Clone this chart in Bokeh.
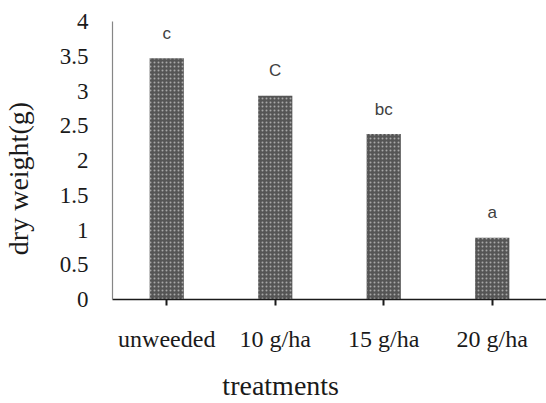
from bokeh.plotting import figure
from bokeh.models import (Range1d, FixedTicker, ColumnDataSource,
                          CustomJSTickFormatter, LinearAxis)
from bokeh.core.properties import value
from bokeh.embed import file_html
from bokeh.resources import INLINE

categories = ["unweeded", "10 g/ha", "15 g/ha", "20 g/ha"]
dry_weight = [3.47, 2.93, 2.38, 0.89]
letters = ["c", "C", "bc", "a"]
y_ticks = [0, 0.5, 1, 1.5, 2, 2.5, 3, 3.5, 4]
y_tick_labels = ["0", "0.5", "1", "1.5", "2", "2.5", "3", "3.5", "4"]
x_title = "treatments"
y_title = "dry weight(g)"

xs = list(range(len(categories)))
src = ColumnDataSource(dict(x=xs, top=dry_weight, letter=letters))

p = figure(width=546, height=403, output_backend="svg", toolbar_location=None,
           x_range=Range1d(-0.5, len(categories) - 0.5), y_range=Range1d(0, 4),
           min_border_left=112, min_border_right=0, min_border_top=21,
           min_border_bottom=104)
p.outline_line_color = None
p.xgrid.visible = False
p.ygrid.visible = False
p.background_fill_color = "white"
p.border_fill_color = "white"

p.vbar(x="x", top="top", width=0.315, bottom=0, source=src,
       fill_color="#555555", line_color=None,
       hatch_pattern="dot", hatch_scale=4, hatch_color="#a8a8a8",
       hatch_weight=1)

p.text(x="x", y="top", text="letter", source=src,
       text_font=value("Liberation Sans"), text_font_size="17px",
       text_color="#404040", text_align="center",
       text_baseline="alphabetic", y_offset=-25)

serif = "Liberation Serif"

# y axis
yax = p.yaxis[0]
yax.ticker = FixedTicker(ticks=y_ticks)
yax.formatter = CustomJSTickFormatter(args=dict(labels=y_tick_labels),
                                      code="return labels[index];")
yax.major_tick_out = 0
yax.major_tick_in = 0
yax.minor_tick_out = 0
yax.minor_tick_in = 0
yax.axis_line_color = "#868686"
yax.axis_line_width = 1.2
yax.major_label_standoff = 24
yax.major_label_text_font = serif
yax.major_label_text_font_size = "23px"
yax.major_label_text_color = "#1a1a1a"

# x axis
xax = p.xaxis[0]
xax.ticker = FixedTicker(ticks=xs)
xax.major_label_overrides = {i: c for i, c in zip(xs, categories)}
xax.major_tick_out = 6
xax.major_tick_in = 0
xax.minor_tick_out = 0
xax.minor_tick_in = 0
xax.major_tick_line_color = "#1a1a1a"
xax.major_tick_line_width = 2
xax.axis_line_color = "#1a1a1a"
xax.axis_line_width = 1.6
xax.major_label_standoff = 20
xax.major_label_text_font = serif
xax.major_label_text_font_size = "24px"
xax.major_label_text_color = "#1a1a1a"


def title_axis(pos, text, standoff, orientation):
    return LinearAxis(ticker=FixedTicker(ticks=[pos]),
                      major_label_overrides={pos: text},
                      axis_line_color=None, major_tick_line_color=None,
                      minor_tick_line_color=None, major_tick_out=0,
                      major_tick_in=0, minor_tick_out=0, minor_tick_in=0,
                      major_label_standoff=standoff,
                      major_label_orientation=orientation,
                      major_label_text_font=serif,
                      major_label_text_font_size="28px",
                      major_label_text_color="#1a1a1a")


# axis titles placed as single-label axes (off-centre like the original)
p.add_layout(title_axis(1.05, x_title, 15, "horizontal"), "below")
p.add_layout(title_axis(1.74, y_title, 22, "parallel"), "left")

open("out.html", "w").write(file_html(p, INLINE))
